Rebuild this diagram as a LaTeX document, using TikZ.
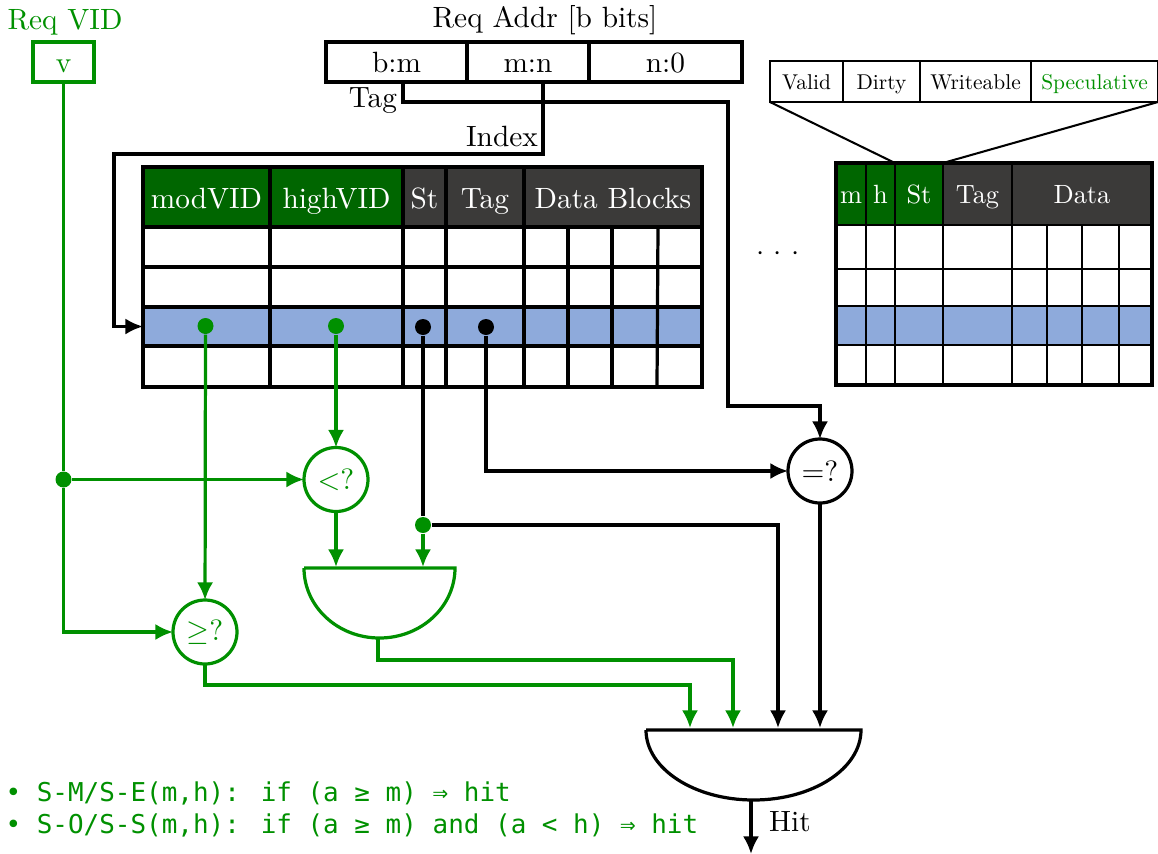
\documentclass[tikz,border=0pt]{standalone}
\usepackage{fontspec}
\usepackage{amssymb}
\usetikzlibrary{arrows.meta, positioning}
\newfontfamily\codefont{DejaVu Sans Mono}
\newfontfamily\plainroman{lmroman10-regular}[Extension=.otf]
\definecolor{vidgreen}{RGB}{0,144,0}
\definecolor{headgreen}{RGB}{0,102,0}
\definecolor{headgrey}{RGB}{59,58,57}
\definecolor{rowblue}{RGB}{142,170,219}
\def\px{0.341pt}
\tikzset{
    box/.style={draw, line width=1.1pt, inner sep=0pt, outer sep=0pt, text height=8pt, text depth=1pt},
    addrbox/.style={box, minimum height=40*\px},
    vidbox/.style={box, draw=vidgreen, text=vidgreen, minimum height=40*\px, minimum width=61*\px},
    lhead/.style={box, text=white, minimum height=60*\px, text height=8.8pt},
    lrow/.style={draw, line width=1.1pt, inner sep=0pt, outer sep=0pt, minimum width=559*\px},
    rhead/.style={box, line width=0.4pt, text=white, minimum height=62*\px, text height=7.4pt,
        font=\plainroman\fontsize{9}{11}\selectfont},
    rrow/.style={draw, line width=0.4pt, inner sep=0pt, outer sep=0pt, minimum width=316*\px},
    bitbox/.style={box, line width=0.7pt, minimum height=41*\px, text height=6.7pt,
        font=\plainroman\fontsize{7.3}{9}\selectfont},
    cmpnode/.style={draw, circle, line width=1.1pt, inner sep=0pt, outer sep=0pt, minimum size=64*\px},
    dotnode/.style={circle, fill, inner sep=0pt, minimum size=16*\px},
    wire/.style={line width=1.1pt},
    arrowwire/.style={wire, -{Latex[length=6pt,width=5.5pt]}},
    greenwire/.style={arrowwire, vidgreen},
    gate/.style={line width=1.1pt},
    codeline/.style={anchor=west, inner sep=0pt, text=vidgreen, font=\codefont\fontsize{8.85}{10}\selectfont}
}
\begin{document}
\begin{tikzpicture}[x=\px, y=-\px]
    \useasboundingbox (0,0) rectangle (1158,854);

    % Request fields
    \node[text=vidgreen]               (reqvid)  at (65,22)  {Req VID};
    \node[vidbox]                      (vid)     at (63.5,62) {v};
    \node                              (reqaddr) at (545,20) {Req Addr [b bits]};
    \node[addrbox, anchor=north west, minimum width=141*\px] (bm) at (326,42) {b:m};
    \node[addrbox, right=0pt of bm, minimum width=122*\px]   (mn) {m:n};
    \node[addrbox, right=0pt of mn, minimum width=153*\px]   (n0) {n:0};
    \node (taglabel)   at (373,101) {Tag};
    \node (indexlabel) at (502,136) {Index};

    % Left table
    \node[lhead, fill=headgreen, anchor=north west, minimum width=127*\px] (modvid) at (143,167) {modVID};
    \node[lhead, fill=headgreen, right=0pt of modvid, minimum width=133*\px] (highvid) {highVID};
    \node[lhead, fill=headgrey, right=0pt of highvid, minimum width=43*\px]  (lst)     {St};
    \node[lhead, fill=headgrey, right=0pt of lst, minimum width=78*\px]      (ltag)    {Tag};
    \node[lhead, fill=headgrey, right=0pt of ltag, minimum width=178*\px]    (ldata)   {Data Blocks};
    \node[lrow, minimum height=40*\px, anchor=north west] (lrow1) at (modvid.south west) {};
    \node[lrow, minimum height=40*\px, below=0pt of lrow1] (lrow2) {};
    \node[lrow, minimum height=39*\px, below=0pt of lrow2, fill=rowblue] (lrow3) {};
    \node[lrow, minimum height=41*\px, below=0pt of lrow3] (lrow4) {};
    \foreach \xa/\xb in {270/270, 403/403, 446/446, 524/524, 568/568, 612/612, 658/657}
        \draw[line width=1.1pt] (\xa,227) -- (\xb,387);

    % Right table
    \node[rhead, fill=headgreen, anchor=north west, minimum width=30*\px] (rm) at (836,163) {m};
    \node[rhead, fill=headgreen, right=0pt of rm, minimum width=29*\px]   (rh)    {h};
    \node[rhead, fill=headgreen, right=0pt of rh, minimum width=48*\px]   (rst)   {St};
    \node[rhead, fill=headgrey, right=0pt of rst, minimum width=69*\px]   (rtag)  {Tag};
    \node[rhead, fill=headgrey, right=0pt of rtag, minimum width=140*\px] (rdata) {Data};
    \node[rrow, minimum height=44*\px, anchor=north west] (rrow1) at (rm.south west) {};
    \node[rrow, minimum height=37*\px, below=0pt of rrow1] (rrow2) {};
    \node[rrow, minimum height=39*\px, below=0pt of rrow2, fill=rowblue] (rrow3) {};
    \node[rrow, minimum height=40*\px, below=0pt of rrow3] (rrow4) {};
    \foreach \xa in {866, 895, 943, 1012, 1047, 1082, 1119}
        \draw[line width=0.4pt] (\xa,225) -- (\xa,385);
    \draw[line width=1.1pt] (rm.north west) rectangle (rrow4.south east);

    % Blow-up of the state bits
    \node[bitbox, anchor=north west, minimum width=73*\px] (valid) at (770,61) {Valid};
    \node[bitbox, right=0pt of valid, minimum width=77*\px]  (dirty)  {Dirty};
    \node[bitbox, right=0pt of dirty, minimum width=111*\px] (write)  {Writeable};
    \node[bitbox, right=0pt of write, minimum width=127*\px, text=vidgreen] (spec) {Speculative};
    \draw[line width=0.7pt] (valid.south west) -- (rst.north west);
    \draw[line width=0.7pt] (spec.south east) -- (rst.north east);
    \node (dots) at (778,254) {${\cdot}\hspace{3.2pt}{\cdot}\hspace{3.2pt}{\cdot}$};

    % Comparators and gates
    \node[cmpnode, draw=vidgreen, text=vidgreen] (lt)  at (336,479.5) {$<$?};
    \node[cmpnode, draw=vidgreen, text=vidgreen] (geq) at (205,632) {$\geq$?};
    \node[cmpnode]                               (eq)  at (820,471) {$=$?};

    \coordinate (gatealeft)  at (304,568);
    \coordinate (gatearight) at (455,568);
    \coordinate (gateaout)   at (378,638);
    \draw[gate, vidgreen] (gatealeft) -- (gatearight)
        arc[start angle=0, end angle=-180, x radius=75.5*\px, y radius=70*\px];
    \coordinate (gatebleft)  at (646,730);
    \coordinate (gatebright) at (861,730);
    \coordinate (gatebout)   at (751,800);
    \draw[gate] (gatebleft) -- (gatebright)
        arc[start angle=0, end angle=-180, x radius=107.5*\px, y radius=70*\px];

    % Dots on the selected row
    \node[dotnode, vidgreen] (dotmod)  at (205.5,326) {};
    \node[dotnode, vidgreen] (dothigh) at (336,326)   {};
    \node[dotnode]           (dotst)   at (423,327)   {};
    \node[dotnode]           (dottag)  at (486,327)   {};
    \node[dotnode, vidgreen] (dotvid)  at (63.5,479.5) {};
    \node[dotnode, vidgreen] (dotand)  at (423,525)   {};

    % Tag and index wires
    \coordinate (tagstart)   at (403,82);
    \coordinate (tagbenda)   at (728,102);
    \coordinate (tagbendb)   at (820,406);
    \coordinate (indexstart) at (543,82);
    \coordinate (indexbend)  at (114,154);
    \draw[arrowwire] (tagstart) |- (tagbenda) |- (tagbendb) -- (eq.north);
    \draw[arrowwire] (indexstart) |- (indexbend) |- (lrow3.west);

    % Green wires
    \coordinate (gateainl)  at (336,567);
    \coordinate (gateainr)  at (423,567);
    \coordinate (gatebina)  at (690,728);
    \coordinate (gatebinb)  at (733,728);
    \coordinate (gatebinc)  at (778,728);
    \coordinate (gatebind)  at (820,728);
    \coordinate (geqdown)   at (205,685);
    \coordinate (gateadown) at (378,660);
    \coordinate (geqside)   at (63.5,632);
    \draw[wire, vidgreen] (vid.south) -- (dotvid);
    \draw[greenwire] (dotvid) -- (lt);
    \draw[greenwire] (dotvid) -- (geqside) -- (geq);
    \draw[greenwire] (dotmod) -- (geq);
    \draw[greenwire] (dothigh) -- (lt);
    \draw[greenwire] (lt) -- (gateainl);
    \draw[greenwire] (dotand) -- (gateainr);
    \draw[greenwire] (gateaout) -- (gateadown) -| (gatebinb);
    \draw[greenwire] (geq) -- (geqdown) -| (gatebina);

    % Black wires
    \draw[wire] (dotst) -- (dotand);
    \draw[arrowwire] (dotand) -| (gatebinc);
    \draw[arrowwire] (dottag) |- (eq);
    \draw[arrowwire] (eq) -- (gatebind);
    \coordinate (hitend) at (751,854);
    \draw[arrowwire] (gatebout) -- (hitend);
    \node (hit) at (790,822) {Hit};

    % Rules
    \node[codeline] (rulea) at (5,793) {• S-M/S-E(m,h): if (a ≥ m) ⇒ hit};
    \node[codeline] (ruleb) at (5,825) {• S-O/S-S(m,h): if (a ≥ m) and (a < h) ⇒ hit};
\end{tikzpicture}
\end{document}
